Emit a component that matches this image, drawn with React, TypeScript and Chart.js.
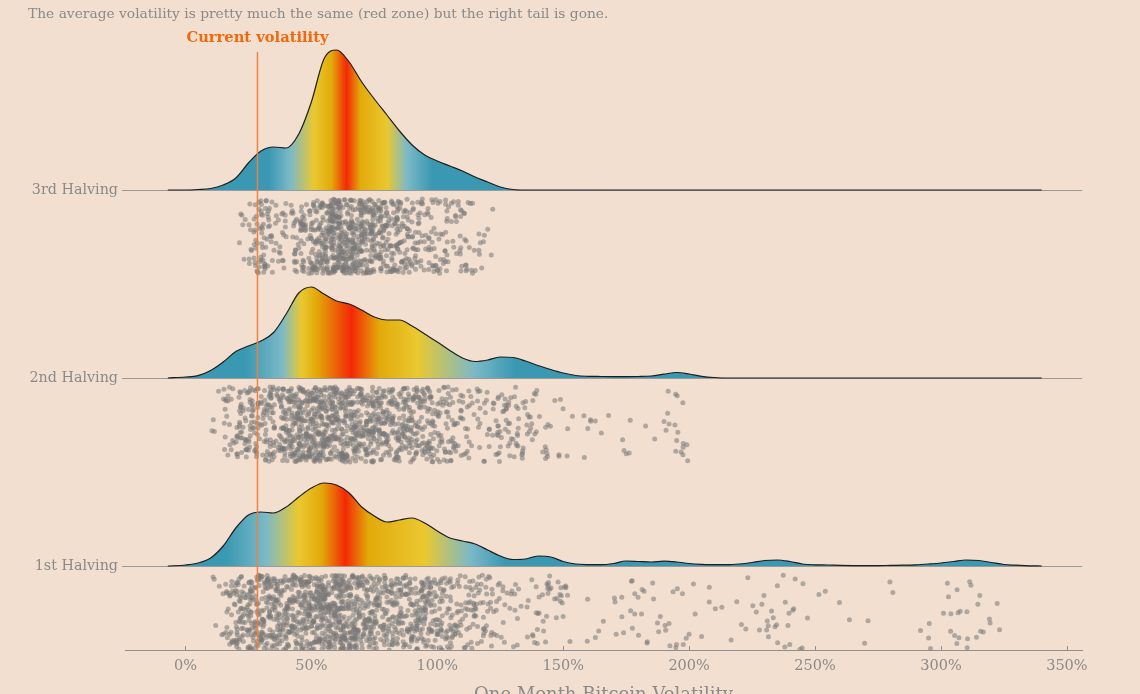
import React, { useEffect, useRef } from "react";
import { Chart, registerables } from "chart.js";

Chart.register(...registerables);

// ---------- texts ----------
const SUBTITLE = "The average volatility is pretty much the same (red zone) but the right tail is gone.";
const X_TITLE = "One Month Bitcoin Volatility";
const CURRENT_LABEL = "Current volatility";
const CURRENT_VOL = 28.6;

// ---------- data ----------
const ROW_NAMES = ["1st Halving", "2nd Halving", "3rd Halving"];
const X_TICKS = [0, 50, 100, 150, 200, 250, 300, 350];

// volatility grid (%) on which the ridge densities are read
const VOL_GRID = [
  -7, 0, 5, 10, 15, 20, 25, 30, 35, 40,
  45, 50, 55, 60, 65, 70, 75, 80, 85, 90,
  95, 100, 105, 110, 115, 120, 125, 130, 135, 140,
  145, 150, 155, 160, 165, 170, 175, 180, 185, 190,
  195, 200, 205, 210, 215, 220, 225, 230, 235, 240,
  245, 250, 255, 260, 265, 270, 275, 280, 285, 290,
  295, 300, 305, 310, 315, 320, 325, 330, 335, 340,
];

// relative density (ridge height units)
const DENSITY_1ST = [
  0, 1, 3, 8, 20, 38, 51, 54, 53, 59,
  69, 78, 83, 81, 73, 59, 50, 44, 46, 48,
  43, 35, 28, 25, 22, 16, 10, 6.5, 7, 10,
  9, 4.5, 2, 1.4, 1.3, 2.5, 5, 4.5, 4, 4.8,
  4, 2.5, 1.7, 1.3, 1.3, 2, 3.5, 5.5, 6, 4.5,
  2, 1.2, 1, 0.6, 0.4, 0.3, 0.4, 0.6, 0.8, 1.2,
  2, 3, 4.5, 6, 5.5, 3.5, 1.5, 0.8, 0.2, 0,
];
const DENSITY_2ND = [
  0, 1, 2.4, 7.5, 16, 26.5, 32, 37, 45.5, 64,
  85, 91, 84, 77, 74, 68, 61, 58, 58, 52,
  44, 36, 27.5, 20, 16.5, 18, 21, 20.5, 17, 12.5,
  8.5, 5, 2.5, 1.7, 1.5, 1.4, 1.4, 1.5, 2, 3.8,
  5.5, 4, 1.7, 0.5, 0, 0, 0, 0, 0, 0,
  0, 0, 0, 0, 0, 0, 0, 0, 0, 0,
  0, 0, 0, 0, 0, 0, 0, 0, 0, 0,
];
const DENSITY_3RD = [
  0, 0, 0.5, 1.5, 5, 12, 27, 39, 43, 42,
  56, 88, 131, 140, 128, 108, 91, 75, 59, 45,
  35, 29, 24, 19, 13, 8, 3, 0.5, 0, 0,
  0, 0, 0, 0, 0, 0, 0, 0, 0, 0,
  0, 0, 0, 0, 0, 0, 0, 0, 0, 0,
  0, 0, 0, 0, 0, 0, 0, 0, 0, 0,
  0, 0, 0, 0, 0, 0, 0, 0, 0, 0,
];

// observation counts per 5% volatility bin (bin left edge)
const BIN_LEFT = [
  10, 15, 20, 25, 30, 35, 40, 45, 50, 55,
  60, 65, 70, 75, 80, 85, 90, 95, 100, 105,
  110, 115, 120, 125, 130, 135, 140, 145, 150, 155,
  160, 165, 170, 175, 180, 185, 190, 195, 200, 205,
  210, 215, 220, 225, 230, 235, 240, 245, 250, 255,
  260, 265, 270, 275, 280, 285, 290, 295, 300, 305,
  310, 315, 320,
];
const COUNTS_1ST = [
  6, 30, 55, 70, 70, 68, 75, 85, 95, 100,
  95, 85, 70, 58, 55, 58, 58, 52, 42, 35,
  30, 26, 18, 10, 8, 12, 14, 11, 5, 2,
  2, 1, 6, 8, 5, 5, 7, 5, 3, 2,
  2, 2, 3, 5, 8, 8, 5, 2, 2, 1,
  1, 1, 1, 1, 1, 0, 1, 3, 5, 6,
  7, 5, 2,
];
const COUNTS_2ND = [
  4, 20, 40, 45, 50, 55, 80, 95, 100, 90,
  85, 80, 75, 65, 60, 60, 55, 45, 38, 28,
  18, 16, 20, 22, 20, 16, 10, 5, 3, 3,
  3, 2, 2, 3, 1, 1, 8, 10, 0, 0,
  0, 0, 0, 0, 0, 0, 0, 0, 0, 0,
  0, 0, 0, 0, 0, 0, 0, 0, 0, 0,
  0, 0, 0,
];
const COUNTS_3RD = [
  0, 0, 6, 30, 40, 22, 20, 45, 75, 105,
  110, 100, 85, 70, 55, 45, 35, 28, 25, 20,
  15, 8, 3, 0, 0, 0, 0, 0, 0, 0,
  0, 0, 0, 0, 0, 0, 0, 0, 0, 0,
  0, 0, 0, 0, 0, 0, 0, 0, 0, 0,
  0, 0, 0, 0, 0, 0, 0, 0, 0, 0,
  0, 0, 0,
];

// colour zones (volatility %): blue, light blue, yellow, gold, red, gold, yellow, light blue, blue
const ZONES_1ST = [16, 32, 45, 54, 63.5, 72.6, 95, 113, 127];
const ZONES_2ND = [24, 38.5, 46, 52, 66, 77, 92, 114.6, 131];
const ZONES_3RD = [33, 41.7, 51, 58, 64, 69.4, 80, 88, 98];

// ---------- layout / style ----------
const BG = "#f2dfcf";
const GREY_TEXT = "#8a8a8a";
const FONT = '"DejaVu Serif", "Liberation Serif", serif';
const X_MIN = -24;
const X_MAX = 356;
const Y_MAX = 610;
const ROW_BASE = [84, 272, 460];
const BIN_WIDTH = 5;
const JIT_TOP = 9;
const JIT_SPAN = 75;
const ZONE_COLORS = [
  "rgb(58,152,178)",
  "rgb(124,185,199)",
  "rgb(234,200,48)",
  "rgb(226,170,10)",
  "rgb(244,40,6)",
  "rgb(226,170,10)",
  "rgb(234,200,48)",
  "rgb(124,185,199)",
  "rgb(58,152,178)",
];

// deterministic jitter position inside a bin (visual spread only)
function spread(n: number) {
  let h = Math.imul(n ^ 0x9e3779b9, 0x85ebca6b);
  h ^= h >>> 13;
  h = Math.imul(h, 0xc2b2ae35);
  h ^= h >>> 16;
  h = Math.imul(h, 0x27d4eb2d);
  h ^= h >>> 15;
  return (h >>> 0) / 4294967296;
}

function ridgePoints(density: number[], base: number) {
  return VOL_GRID.map((v, i) => ({ x: v, y: base + density[i] }));
}

function jitterPoints(counts: number[], base: number, seed: number) {
  const pts: { x: number; y: number }[] = [];
  let k = seed;
  counts.forEach((n, b) => {
    for (let i = 0; i < n; i++) {
      k += 2;
      const u = spread(k);
      const v = spread(k + 1);
      pts.push({ x: BIN_LEFT[b] + BIN_WIDTH * u, y: base - (JIT_TOP + JIT_SPAN * v) });
    }
  });
  return pts;
}

function zoneGradient(zones: number[]) {
  return (ctx: any) => {
    const chart = ctx.chart;
    const area = chart.chartArea;
    const xs = chart.scales.x;
    if (!area || !xs) return "rgba(0,0,0,0)";
    const g = chart.ctx.createLinearGradient(area.left, 0, area.right, 0);
    const w = area.right - area.left;
    zones.forEach((z, i) => {
      const p = (xs.getPixelForValue(z) - area.left) / w;
      g.addColorStop(Math.min(1, Math.max(0, p)), ZONE_COLORS[i]);
    });
    return g;
  };
}

const overlayPlugin = {
  id: "overlay",
  afterDatasetsDraw(chart: any) {
    const { ctx, chartArea, scales } = chart;
    ctx.save();
    // small upward tick marks on x axis
    ctx.strokeStyle = "#8f8f8f";
    ctx.lineWidth = 1;
    X_TICKS.forEach((t) => {
      const px = Math.round(scales.x.getPixelForValue(t)) + 0.5;
      ctx.beginPath();
      ctx.moveTo(px, chartArea.bottom);
      ctx.lineTo(px, chartArea.bottom - 4);
      ctx.stroke();
    });
    // current volatility marker
    const cx = scales.x.getPixelForValue(CURRENT_VOL);
    ctx.strokeStyle = "rgba(242,128,60,0.95)";
    ctx.lineWidth = 1.5;
    ctx.beginPath();
    ctx.moveTo(cx, 52);
    ctx.lineTo(cx, chartArea.bottom);
    ctx.stroke();
    ctx.fillStyle = "#f0690f";
    ctx.font = `bold 14.7px ${FONT}`;
    ctx.textAlign = "center";
    ctx.textBaseline = "middle";
    ctx.fillText(CURRENT_LABEL, cx, 38);
    // subtitle
    ctx.fillStyle = GREY_TEXT;
    ctx.font = `13.8px ${FONT}`;
    ctx.textAlign = "left";
    ctx.fillText(SUBTITLE, 28, 14);
    // x axis title
    ctx.textAlign = "center";
    ctx.textBaseline = "top";
    ctx.font = `18px ${FONT}`;
    ctx.fillText(X_TITLE, (chartArea.left + chartArea.right) / 2, 686);
    ctx.restore();
  },
};

export default function App() {
  const canvasRef = useRef<HTMLCanvasElement | null>(null);

  useEffect(() => {
    document.body.style.margin = "0";
    document.body.style.background = BG;
    const canvas = canvasRef.current;
    if (!canvas) return;

    const densities = [DENSITY_1ST, DENSITY_2ND, DENSITY_3RD];
    const counts = [COUNTS_1ST, COUNTS_2ND, COUNTS_3RD];
    const zones = [ZONES_1ST, ZONES_2ND, ZONES_3RD];

    const datasets: any[] = [];
    ROW_NAMES.forEach((name, r) => {
      datasets.push({
        type: "line",
        label: name,
        data: ridgePoints(densities[r], ROW_BASE[r]),
        borderColor: "#1e1e1e",
        borderWidth: 1.2,
        pointRadius: 0,
        tension: 0.4,
        cubicInterpolationMode: "monotone",
        fill: { value: ROW_BASE[r] },
        backgroundColor: zoneGradient(zones[r]),
        order: 2,
      });
      datasets.push({
        type: "scatter",
        label: name + " obs",
        data: jitterPoints(counts[r], ROW_BASE[r], r * 100000 + 17),
        pointRadius: 2.5,
        pointBorderWidth: 0,
        backgroundColor: "rgba(120,120,120,0.55)",
        borderColor: "rgba(0,0,0,0)",
        order: 1,
      });
    });

    const chart = new Chart(canvas, {
      type: "line",
      data: { datasets },
      plugins: [overlayPlugin],
      options: {
        animation: false,
        responsive: false,
        devicePixelRatio: 1,
        layout: { padding: { top: 40, right: 58, bottom: 0, left: 0 } },
        plugins: {
          legend: { display: false },
          tooltip: { enabled: false },
          title: { display: false },
        },
        scales: {
          x: {
            type: "linear",
            min: X_MIN,
            max: X_MAX,
            afterBuildTicks: (scale: any) => {
              scale.ticks = X_TICKS.map((v) => ({ value: v }));
            },
            afterFit: (scale: any) => {
              scale.height = 44;
            },
            grid: { display: false, drawTicks: false },
            border: { display: true, color: "#8f8f8f", width: 1 },
            ticks: {
              color: GREY_TEXT,
              font: { family: FONT, size: 14.5 },
              padding: 8,
              maxRotation: 0,
              callback: (v: any) => `${v}%`,
            },
          },
          y: {
            type: "linear",
            min: 0,
            max: Y_MAX,
            afterBuildTicks: (scale: any) => {
              scale.ticks = ROW_BASE.map((v) => ({ value: v }));
            },
            afterFit: (scale: any) => {
              scale.width = 125;
            },
            grid: {
              color: "#9a9a9a",
              lineWidth: 1,
              drawTicks: true,
              tickLength: 3,
            },
            border: { display: false },
            ticks: {
              color: GREY_TEXT,
              font: { family: FONT, size: 14.3 },
              padding: 4,
              callback: (v: any) => {
                const i = ROW_BASE.indexOf(Number(v));
                return i >= 0 ? ROW_NAMES[i] : "";
              },
            },
          },
        },
      },
    } as any);

    return () => chart.destroy();
  }, []);

  return (
    <div style={{ width: 1140, height: 694, background: BG, overflow: "hidden" }}>
      <canvas ref={canvasRef} width={1140} height={694} style={{ display: "block" }} />
    </div>
  );
}
